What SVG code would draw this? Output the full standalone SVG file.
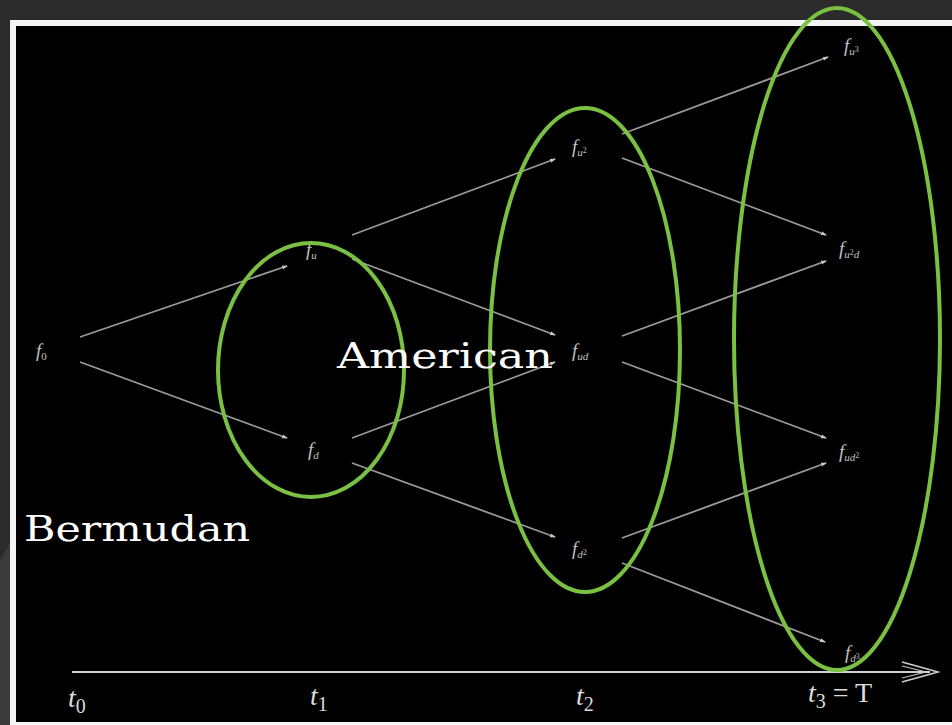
<svg xmlns="http://www.w3.org/2000/svg" width="952" height="725" viewBox="0 0 952 725">
<defs>
<marker id="dot" viewBox="0 0 6 6" refX="5" refY="3" markerWidth="6" markerHeight="6" orient="auto" markerUnits="userSpaceOnUse">
<path d="M0,1 L6,3 L0,5 z" fill="#c8c8c8"/>
</marker>
</defs>
<style>
.edge{stroke:#9a9a9a;stroke-width:1.8;fill:none;marker-end:url(#dot)}
.lbl{font-family:"Liberation Serif","DejaVu Serif",serif;font-style:italic;font-size:19px;fill:#c0c0c0}
.sub{font-size:11px}
.sup{font-size:8px;font-style:normal}
.ax{font-family:"Liberation Serif","DejaVu Serif",serif;font-size:28px;fill:#dcdcdc}
.big{font-family:"DejaVu Serif","Liberation Serif",serif;font-size:36px;fill:#ffffff}
.ell{fill:none;stroke:#7ac143;stroke-width:4}
</style>
<rect x="0" y="0" width="952" height="725" fill="#2b2b2b"/>
<polygon points="0,560 12,540 12,725 0,725" fill="#3a3a3a"/>
<rect x="10" y="20" width="942" height="705" fill="#f4f4f4"/>
<rect x="16" y="26" width="936" height="696" fill="#000000"/>
<g id="connectors">
<line class="edge" x1="80" y1="337" x2="287" y2="266"/>
<line class="edge" x1="80" y1="362" x2="287" y2="438"/>
<line class="edge" x1="352" y1="235" x2="555" y2="159"/>
<line class="edge" x1="352" y1="259" x2="555" y2="335"/>
<line class="edge" x1="352" y1="438" x2="555" y2="362"/>
<line class="edge" x1="352" y1="463" x2="555" y2="537"/>
<line class="edge" x1="622" y1="134" x2="828" y2="57"/>
<line class="edge" x1="622" y1="158" x2="826" y2="235"/>
<line class="edge" x1="622" y1="336" x2="826" y2="261"/>
<line class="edge" x1="622" y1="362" x2="826" y2="438"/>
<line class="edge" x1="622" y1="538" x2="826" y2="463"/>
<line class="edge" x1="622" y1="563" x2="825" y2="642"/>
</g>
<g id="axis">
<line x1="72" y1="672" x2="930" y2="672" stroke="#d0d0d0" stroke-width="2"/>
<path d="M902,662 L938,672 L902,682" fill="none" stroke="#d0d0d0" stroke-width="1.5"/>
<path d="M902,666 L926,672 L902,678" fill="none" stroke="#d0d0d0" stroke-width="1"/>
<text class="ax" x="68" y="707"><tspan font-style="italic">t</tspan><tspan font-size="20" dy="6">0</tspan></text>
<text class="ax" x="310" y="705"><tspan font-style="italic">t</tspan><tspan font-size="20" dy="6">1</tspan></text>
<text class="ax" x="576" y="705"><tspan font-style="italic">t</tspan><tspan font-size="20" dy="6">2</tspan></text>
<text class="ax" x="808" y="702"><tspan font-style="italic">t</tspan><tspan font-size="20" dy="6">3</tspan><tspan dy="-6"> = T</tspan></text>
</g>
<g id="f0"><text class="lbl" x="36" y="357">f<tspan class="sub" font-style="normal" dy="3">0</tspan></text></g>
<g id="fu"><text class="lbl" x="306" y="256">f<tspan class="sub" dy="3">u</tspan></text></g>
<g id="fd"><text class="lbl" x="308" y="456">f<tspan class="sub" dy="3">d</tspan></text></g>
<g id="fu2"><text class="lbl" x="572" y="153">f<tspan class="sub" dy="3">u</tspan><tspan class="sup" dy="-3">2</tspan></text></g>
<g id="fud"><text class="lbl" x="572" y="357">f<tspan class="sub" dy="3">ud</tspan></text></g>
<g id="fd2"><text class="lbl" x="572" y="555">f<tspan class="sub" dy="3">d</tspan><tspan class="sup" dy="-3">2</tspan></text></g>
<g id="fu3"><text class="lbl" x="844" y="52">f<tspan class="sub" dy="3">u</tspan><tspan class="sup" dy="-3">3</tspan></text></g>
<g id="fu2d"><text class="lbl" x="839" y="255">f<tspan class="sub" dy="3">u</tspan><tspan class="sup" dy="-3">2</tspan><tspan class="sub" dy="3">d</tspan></text></g>
<g id="fud2"><text class="lbl" x="839" y="458">f<tspan class="sub" dy="3">ud</tspan><tspan class="sup" dy="-3">2</tspan></text></g>
<g id="fd3"><text class="lbl" x="845" y="659">f<tspan class="sub" dy="3">d</tspan><tspan class="sup" dy="-3">3</tspan></text></g>
<g id="groups">
<ellipse class="ell" cx="311" cy="370" rx="93" ry="127"/>
<ellipse class="ell" cx="585" cy="350" rx="95" ry="242"/>
<ellipse class="ell" cx="837" cy="339" rx="103" ry="331"/>
</g>
<g id="labels">
<text class="big" x="337" y="368" textLength="216" lengthAdjust="spacingAndGlyphs">American</text>
<text class="big" x="24" y="541" textLength="226" lengthAdjust="spacingAndGlyphs">Bermudan</text>
</g>
</svg>
